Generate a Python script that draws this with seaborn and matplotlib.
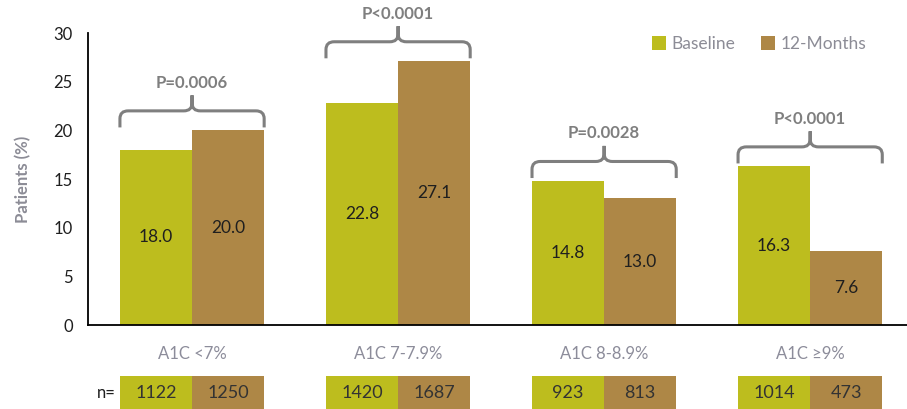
import numpy as np
import pandas as pd
import matplotlib
matplotlib.use("Agg")
import matplotlib.pyplot as plt
import seaborn as sns
from matplotlib.path import Path
from matplotlib.patches import PathPatch, Rectangle
from matplotlib.transforms import blended_transform_factory

# data
categories = ["A1C <7%", "A1C 7-7.9%", "A1C 8-8.9%", "A1C \u22659%"]
periods = ["Baseline", "12-Months"]
baseline = [18.0, 22.8, 14.8, 16.3]
months12 = [20.0, 27.1, 13.0, 7.6]
n_baseline = [1122, 1420, 923, 1014]
n_months12 = [1250, 1687, 813, 473]
p_values = ["P=0.0006", "P<0.0001", "P=0.0028", "P<0.0001"]

colors = ["#BDBD1E", "#AE8746"]
gray = "#7F7F7F"


def draw_brace(ax, x0, x1, y_end, y_line, y_peak, rx=0.04, ry=0.8):
    xm = (x0 + x1) / 2
    verts = [(x0, y_end), (x0, y_line - ry), (x0, y_line), (x0 + rx, y_line),
             (xm - rx, y_line), (xm, y_line), (xm, y_line + ry), (xm, y_peak),
             (xm, y_line + ry), (xm, y_line), (xm + rx, y_line),
             (x1 - rx, y_line), (x1, y_line), (x1, y_line - ry), (x1, y_end)]
    codes = [Path.MOVETO, Path.LINETO, Path.CURVE3, Path.CURVE3,
             Path.LINETO, Path.CURVE3, Path.CURVE3, Path.LINETO,
             Path.LINETO, Path.CURVE3, Path.CURVE3,
             Path.LINETO, Path.CURVE3, Path.CURVE3, Path.LINETO]
    ax.add_patch(PathPatch(Path(verts, codes), fill=False, edgecolor=gray,
                           lw=2.2, capstyle='butt', clip_on=False))


def main():
    df = pd.DataFrame({
        "Category": categories * 2,
        "Period": [periods[0]] * 4 + [periods[1]] * 4,
        "Value": baseline + months12,
    })

    sns.set_style("white")
    plt.rcParams['font.family'] = ['Lato', 'DejaVu Sans']

    fig = plt.figure(figsize=(9.07, 4.09), dpi=100)
    ax = fig.add_axes([88 / 907, 84 / 409, 1 - 88 / 907, 292 / 409])

    sns.barplot(data=df, x="Category", y="Value", hue="Period",
                order=categories, hue_order=periods, palette=colors,
                width=0.7, gap=0, saturation=1, errorbar=None,
                edgecolor="none", ax=ax)

    ax.set_xlim(-0.505, 3.47)
    ax.set_ylim(0, 30)
    ax.set_yticks(np.arange(0, 31, 5))
    ax.tick_params(axis='y', direction='out', length=5, width=1.3,
                   labelsize=12, labelcolor='#1F1F1F', pad=6, color='black')

    # Excel style: ticks at group boundaries, labels at centres
    ax.set_xticks([0.5, 1.5, 2.5])
    ax.set_xticklabels([])
    ax.set_xticks(range(len(categories)), minor=True)
    ax.set_xticklabels(categories, minor=True)
    ax.tick_params(axis='x', which='major', direction='out', length=5,
                   width=1.3, color='black')
    ax.tick_params(axis='x', which='minor', length=0, pad=15,
                   labelsize=12, labelcolor='#8C8C9A')

    for side in ['top', 'right']:
        ax.spines[side].set_visible(False)
    for side in ['left', 'bottom']:
        ax.spines[side].set_color('black')
        ax.spines[side].set_linewidth(1.3)

    ax.set_xlabel("")
    ax.set_ylabel("Patients (%)", fontsize=12, fontweight='bold',
                  color='#8C8C96', labelpad=16)

    # value labels inside the bars
    for cont in ax.containers:
        ax.bar_label(cont, fmt='%.1f', label_type='center', fontsize=12.5,
                     color='#1F1F1F')

    # p-value braces
    base_bars = ax.containers[0].patches
    fu_bars = ax.containers[1].patches
    for b, f, p in zip(base_bars, fu_bars, p_values):
        top = max(b.get_height(), f.get_height())
        x0 = b.get_x()
        x1 = f.get_x() + f.get_width()
        draw_brace(ax, x0, x1, top + 0.3, top + 2.0, top + 3.6)
        ax.text((x0 + x1) / 2, top + 4.9, p, ha='center', va='center',
                fontsize=12, fontweight='bold', color=gray, clip_on=False)

    # n= table under the category labels
    trans = blended_transform_factory(ax.transData, ax.transAxes)
    for cont, ns, col in zip(ax.containers, [n_baseline, n_months12], colors):
        for bar, n in zip(cont.patches, ns):
            ax.add_patch(Rectangle((bar.get_x(), -0.30), bar.get_width(), 0.125,
                                   transform=trans, facecolor=col,
                                   edgecolor='none', clip_on=False))
            ax.text(bar.get_x() + bar.get_width() / 2, -0.233, str(n),
                    transform=trans, ha='center', va='center', fontsize=13,
                    color='#333333', clip_on=False)
    ax.text(-0.37, -0.233, "n=", transform=trans, ha='right', va='center',
            fontsize=12, color='#1F1F1F', clip_on=False)

    handles, labels = ax.get_legend_handles_labels()
    ax.legend(handles, labels, loc='center', bbox_to_anchor=(0.837, 0.892),
              bbox_transform=fig.transFigure, ncol=2, frameon=False,
              fontsize=12.5, labelcolor='#8C8C96', handlelength=0.8,
              handleheight=0.8, handletextpad=0.3, columnspacing=1.5)

    fig.savefig("out.png", dpi=100)
    plt.close(fig)


if __name__ == '__main__':
    main()
